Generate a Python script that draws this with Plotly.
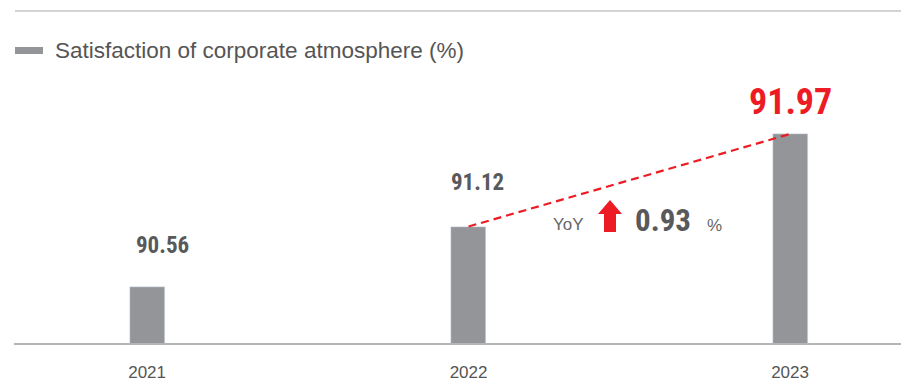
import plotly.graph_objects as go

years = ["2021", "2022", "2023"]
satisfaction = [90.56, 91.12, 91.97]
series_name = "Satisfaction of corporate atmosphere (%)"

# the page body keeps its default 8px margin, so the figure starts at (8, 8)
PAGE_OFF = 8
W, H = 909 - PAGE_OFF, 384 - PAGE_OFF
L, R, T, B = 14 - PAGE_OFF, 0, 11 - PAGE_OFF, 41
GRAY = "#939598"
TEXT = "#58595b"
RED = "#ed1c24"
NARROW = "Roboto Condensed, Liberation Sans Narrow, Roboto, sans-serif"
SANS = "Liberation Sans, Arial, sans-serif"


# page pixel -> paper fraction (plot area spans x 14..909, y 11..343 on the page)
def px(x):
    return (x - 14) / 895


def py(y):
    return (343 - y) / 332


yoy = (satisfaction[2] - satisfaction[1]) / satisfaction[1] * 100

fig = go.Figure()
fig.add_trace(go.Bar(
    x=years, y=satisfaction, marker_color=GRAY, width=0.109,
    showlegend=False, hoverinfo="x+y",
))
fig.add_trace(go.Scatter(
    x=years[1:], y=satisfaction[1:], mode="lines",
    line=dict(color=RED, width=2.2, dash="8px,5px"),
    showlegend=False, hoverinfo="skip",
))

# value labels (x by category index: numeric-looking names get read as indices)
label_colors = [TEXT, TEXT, RED]
label_sizes = [23, 23, 36]
label_shift = [42, 44, 32]
label_xshift = [15, 9, 0]
for i, (v, c, s, ys, xs) in enumerate(zip(satisfaction, label_colors, label_sizes, label_shift, label_xshift)):
    fig.add_annotation(
        x=i, y=v, text=f"<b>{v:.2f}</b>", showarrow=False,
        xanchor="center", yanchor="middle",
        yshift=ys, xshift=xs, font=dict(family=NARROW, size=s, color=c),
    )

# YoY callout
fig.add_annotation(xref="paper", yref="paper", x=px(568), y=py(224), text="YoY",
                   xanchor="center", yanchor="middle",
                   showarrow=False, font=dict(family=SANS, size=17, color="#666666"))
fig.add_annotation(xref="paper", yref="paper", x=px(663), y=py(220), text=f"<b>{yoy:.2f}</b>",
                   xanchor="center", yanchor="middle",
                   showarrow=False, font=dict(family=NARROW, size=31, color=TEXT))
fig.add_annotation(xref="paper", yref="paper", x=px(714), y=py(225), text="%",
                   xanchor="center", yanchor="middle",
                   showarrow=False, font=dict(family=SANS, size=17, color="#666666"))
arrow = [(610, 200), (622, 214), (616, 214), (616, 232), (604, 232), (604, 214), (598, 214)]
path = "M " + " L ".join(f"{px(a)},{py(b)}" for a, b in arrow) + " Z"
fig.add_shape(type="path", xref="paper", yref="paper", path=path,
              fillcolor=RED, line=dict(width=0))

# legend
fig.add_shape(type="rect", xref="paper", yref="paper",
              x0=px(15), x1=px(43), y0=py(47), y1=py(54),
              fillcolor=GRAY, line=dict(width=0))
fig.add_annotation(xref="paper", yref="paper", x=px(53), y=py(50), text=series_name,
                   xanchor="left", yanchor="middle",
                   showarrow=False, font=dict(family=SANS, size=22.5, color="#555555"))

# top rule
fig.add_shape(type="line", xref="paper", yref="paper", x0=px(15), x1=1, y0=1, y1=1,
              line=dict(color="#d4d4d4", width=2))

fig.update_layout(
    width=W, height=H, margin=dict(l=L, r=R, t=T, b=B),
    plot_bgcolor="white", paper_bgcolor="white", bargap=0,
    xaxis=dict(
        type="category", range=[-0.414, 2.37], showgrid=False, zeroline=False,
        showline=True, linecolor="#b5b5b5", linewidth=1.5,
        ticks="outside", ticklen=13, tickcolor="rgba(0,0,0,0)",
        tickfont=dict(family=SANS, size=17, color="#555555"),
    ),
    yaxis=dict(range=[90.05, 93.10], visible=False),
)

fig.write_html("out.html")
